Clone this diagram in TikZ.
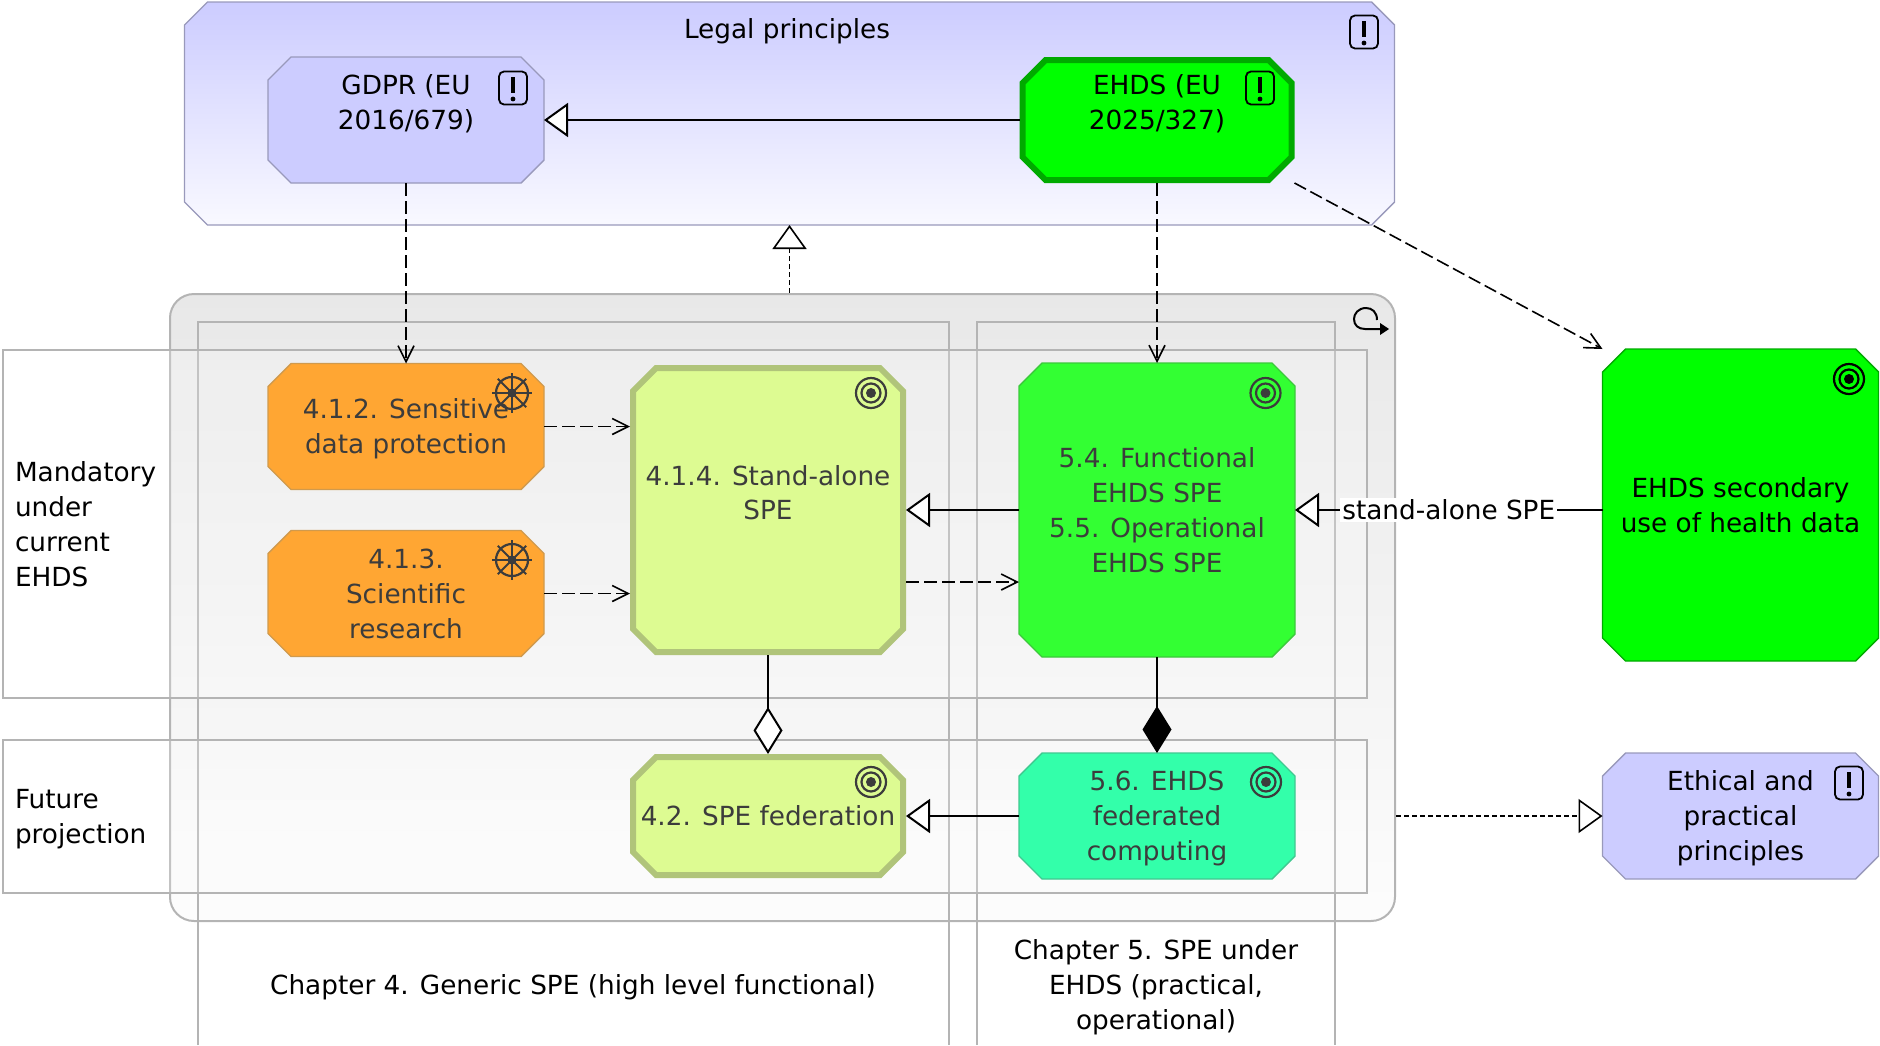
\documentclass[tikz,border=0pt]{standalone}
\usepackage{fontspec}
\setmainfont{DejaVu Sans}
\usepackage{tikz}
\usetikzlibrary{arrows.meta}
\definecolor{motivblue}{HTML}{CCCCFF}
\definecolor{motivline}{HTML}{9999BB}
\definecolor{ehdsgreen}{HTML}{00FF00}
\definecolor{ehdsline}{HTML}{00AA00}
\definecolor{funcgreen}{HTML}{33FF33}
\definecolor{funcline}{HTML}{3CC83C}
\definecolor{fedgreen}{HTML}{33FFAA}
\definecolor{fedline}{HTML}{40C890}
\definecolor{goalorange}{HTML}{FFA633}
\definecolor{goalline}{HTML}{D09A4D}
\definecolor{spelime}{HTML}{DDFB92}
\definecolor{speline}{HTML}{B0C47A}
\definecolor{laneline}{HTML}{B4B4B4}
\definecolor{innertext}{HTML}{3C3C3C}
\newcommand{\labelfont}{\fontsize{13.15}{17.5}\selectfont}
\makeatletter
\pgfdeclareshape{octobox}{
  \inheritsavedanchors[from=rectangle]
  \inheritanchorborder[from=rectangle]
  \inheritanchor[from=rectangle]{center}
  \inheritanchor[from=rectangle]{north}
  \inheritanchor[from=rectangle]{south}
  \inheritanchor[from=rectangle]{east}
  \inheritanchor[from=rectangle]{west}
  \inheritanchor[from=rectangle]{north east}
  \inheritanchor[from=rectangle]{north west}
  \inheritanchor[from=rectangle]{south east}
  \inheritanchor[from=rectangle]{south west}
  \backgroundpath{
    \southwest \pgf@xa=\pgf@x \pgf@ya=\pgf@y
    \northeast \pgf@xb=\pgf@x \pgf@yb=\pgf@y
    \pgfmathsetlength\pgf@xc{\pgfkeysvalueof{/pgf/outer xsep}}
    \advance\pgf@xa by \pgf@xc \advance\pgf@xb by -\pgf@xc
    \advance\pgf@ya by \pgf@xc \advance\pgf@yb by -\pgf@xc
    \pgfmathsetlength\pgf@xc{11.5pt}
    \pgfpathmoveto{\pgfpoint{\pgf@xa+\pgf@xc}{\pgf@ya}}
    \pgfpathlineto{\pgfpoint{\pgf@xb-\pgf@xc}{\pgf@ya}}
    \pgfpathlineto{\pgfpoint{\pgf@xb}{\pgf@ya+\pgf@xc}}
    \pgfpathlineto{\pgfpoint{\pgf@xb}{\pgf@yb-\pgf@xc}}
    \pgfpathlineto{\pgfpoint{\pgf@xb-\pgf@xc}{\pgf@yb}}
    \pgfpathlineto{\pgfpoint{\pgf@xa+\pgf@xc}{\pgf@yb}}
    \pgfpathlineto{\pgfpoint{\pgf@xa}{\pgf@yb-\pgf@xc}}
    \pgfpathlineto{\pgfpoint{\pgf@xa}{\pgf@ya+\pgf@xc}}
    \pgfpathclose
  }
}
\makeatother
\tikzset{
  elem/.style={octobox, minimum width=138pt, minimum height=63pt, inner sep=0pt, outer sep=0pt,
    align=center, line width=.7pt, font=\labelfont},
  thickelem/.style={elem, line width=3pt, outer sep=1.5pt},
  lane/.style={draw=laneline, line width=1pt},
  rowlane/.style={lane, fill=white, fill opacity=.2, text opacity=1, text width=670pt, inner xsep=6pt,
    align=left, font=\labelfont},
  caption/.style={align=center, font=\labelfont},
  spec/.style={-{Triangle[fill=white, length=12pt, width=17pt]}, line width=1pt},
  real/.style={-{Triangle[fill=white, length=12pt, width=17pt]}, line width=.8pt, dash pattern=on 2.4pt off 1.6pt},
  serve/.style={-{Straight Barb[length=8pt, width=8pt]}, line width=.8pt, dash pattern=on 6.5pt off 2.5pt},
  pics/exclam/.style={code={
    \draw[rounded corners=2.5pt, line width=.9pt] (-14,-16.5) rectangle (14,16.5);
    \draw[line width=2pt] (0,-11) -- (0,5);
    \fill (0,11) circle (2.4);
  }},
  pics/target/.style={code={
    \draw[line width=1.1pt] (0,0) circle (15) (0,0) circle (9.5);
    \fill (0,0) circle (5);
  }},
  pics/helm/.style={code={
    \draw[line width=1.1pt] (0,0) circle (16);
    \foreach \a in {0,45,...,315} \draw[line width=.9pt] (0,0) -- (\a:20);
    \fill (0,0) circle (4.5);
  }},
}

\begin{document}
\begin{tikzpicture}[x=.5pt, y=-.5pt, >=stealth]
  \useasboundingbox (0,0) rectangle (1880,1045);
  % Legal layer
  \node[elem, draw=motivline, top color=motivblue, bottom color=motivblue!12,
    minimum width=605pt, minimum height=111.5pt] (LEGAL) at (789.5,113.5) {};
  \node[caption] (LEGALTITLE) at (787,31) {Legal principles};
  \pic at (1364,32) {exclam};
  \node[elem, draw=motivline, fill=motivblue] (GDPR) at (406,120) {GDPR (EU\\2016/679)\\~};
  \pic at (513,88) {exclam};
  \node[thickelem, draw=ehdsline, fill=ehdsgreen, minimum width=134.5pt, minimum height=60pt]
    (EHDS) at (1157,120) {EHDS (EU\\2025/327)\\~};
  \pic at (1260,88) {exclam};
  % Collaboration, columns and rows
  \node[lane, rounded corners=12pt, top color=black!9, bottom color=black!1,
    minimum width=612.5pt, minimum height=313.5pt] (SPE) at (782.5,607.5) {};
  \draw[lane] (198,1045) |- (949,322) -- (949,1045);
  \draw[lane] (977,1045) |- (1335,322) -- (1335,1045);
  \node[rowlane, minimum height=174pt] (MAND) at (685,524) {Mandatory\\under\\current\\EHDS};
  \node[rowlane, minimum height=76.5pt] (FUT) at (685,816) {\rule{0pt}{13pt}Future\\projection};
  \node[caption] (CHFOUR) at (573,987) {Chapter 4. Generic SPE (high level functional)};
  \node[caption] (CHFIVE) at (1156,987) {Chapter 5. SPE under\\EHDS (practical,\\operational)};
  \draw[line width=1pt] (1377,320) .. controls (1377,312) and (1372,308) .. (1366,308)
    .. controls (1358,308) and (1354,314) .. (1354,319)
    .. controls (1354,325) and (1358,329) .. (1365,329) -- (1381,329);
  \fill (1380,323) -- (1389,329) -- (1380,335) -- cycle;
  % Elements
  \node[elem, draw=goalline, fill=goalorange, text=innertext] (SENS) at (406,426.5) {\rule{0pt}{12.5pt}4.1.2. Sensitive\\data protection};
  \pic[color=innertext] at (512,393) {helm};
  \node[elem, draw=goalline, fill=goalorange, text=innertext] (SCI) at (406,593.5) {4.1.3.\\Scientific\\research};
  \pic[color=innertext] at (512,560) {helm};
  \node[thickelem, draw=speline, fill=spelime, text=innertext, minimum width=135pt, minimum height=142pt]
    (STAND) at (768,510) {4.1.4. Stand-alone\\SPE\\~};
  \pic[color=innertext] at (871,393) {target};
  \node[thickelem, draw=speline, fill=spelime, text=innertext, minimum width=135pt, minimum height=59pt]
    (FEDER) at (768,816) {4.2. SPE federation};
  \pic[color=innertext] at (871,782) {target};
  \node[elem, draw=funcline, fill=funcgreen, text=innertext, minimum height=147pt]
    (FUNC) at (1157,510) {5.4. Functional\\EHDS SPE\\5.5. Operational\\EHDS SPE};
  \pic[color=innertext] at (1265.5,393) {target};
  \node[elem, draw=fedline, fill=fedgreen, text=innertext] (FEDC) at (1157,816) {\rule{0pt}{12.5pt}5.6. EHDS\\federated\\computing};
  \pic[color=innertext] at (1266,782) {target};
  \node[elem, draw=ehdsline, fill=ehdsgreen, minimum height=156pt] (SEC) at (1740.5,505) {EHDS secondary\\use of health data};
  \pic at (1849,379) {target};
  \node[elem, draw=motivline, fill=motivblue] (ETH) at (1740.5,816) {\rule{0pt}{12.5pt}Ethical and\\practical\\principles};
  \pic at (1849,783) {exclam};
  % Specialisation
  \draw[spec] (EHDS.west) -- (GDPR.east);
  \draw[spec] (FUNC.west) -- (STAND.east);
  \draw[spec] (FEDC.west) -- (FEDER.east);
  \draw[spec] (FUNC.east -| SEC.west) -- node[fill=white, inner sep=1pt, font=\labelfont] (SALABEL) {stand-alone SPE} (FUNC.east);
  % Realisation
  \draw[real] (LEGAL.south |- SPE.north) -- (LEGAL.south);
  \draw[real] (ETH.west -| SPE.east) -- (ETH.west);
  % Serving
  \draw[serve] (GDPR.south) -- (GDPR.south |- SENS.north);
  \draw[serve] (EHDS.south) -- (EHDS.south |- FUNC.north);
  \draw[serve] (EHDS.south east) -- (SEC.north west);
  \draw[serve] (SENS.east) -- (SENS.east -| STAND.west);
  \draw[serve] (SCI.east) -- (SCI.east -| STAND.west);
  \draw[serve] ([yshift=-36pt]STAND.east) -- ([yshift=-36pt]FUNC.west);
  % Aggregation and composition
  \draw[-{Diamond[fill=white, length=23.5pt, width=14.5pt]}, line width=1pt] (STAND.south) -- (FEDER.north);
  \draw[-{Diamond[length=23.5pt, width=14.5pt]}, line width=1pt] (FUNC.south) -- (FEDC.north);
\end{tikzpicture}
\end{document}
